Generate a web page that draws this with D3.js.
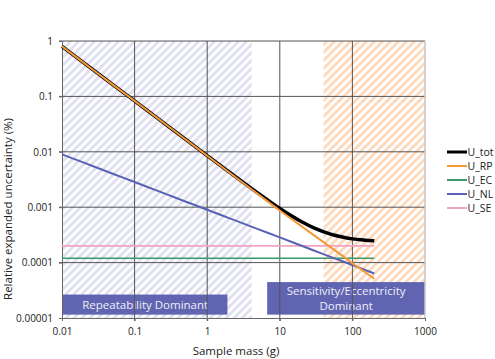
<!DOCTYPE html>
<html><head><meta charset="utf-8">
<script src="https://cdn.jsdelivr.net/npm/d3@7"></script>
<style>body{margin:0;background:#fff}svg{display:block;font-family:'Open Sans',sans-serif}</style>
</head><body><svg id="c" width="495" height="359"></svg>
<script>
const xTickValues = [0.01, 0.1, 1, 10, 100, 1000];
const xTickLabels = ["0.01", "0.1", "1", "10", "100", "1000"];
const yTickValues = [0.00001, 0.0001, 0.001, 0.01, 0.1, 1];
const yTickLabels = ["0.00001", "0.0001", "0.001", "0.01", "0.1", "1"];

const mass = [0.01, 0.02, 0.05, 0.1, 0.2, 0.5, 1, 2, 5, 10, 20, 30, 50, 70, 100, 150, 200];
const U_tot = [0.8, 0.403, 0.163, 0.083, 0.0418, 0.01695, 0.00855, 0.00435, 0.0018, 0.000945, 0.000546, 0.000419, 0.000327, 0.000292, 0.000268, 0.000254, 0.000247];
const U_RP  = [0.8, 0.403, 0.163, 0.083, 0.0418, 0.0169, 0.0085, 0.00428, 0.00173, 0.00087, 0.00045, 0.000307, 0.00019, 0.000138, 0.0000975, 0.0000668, 0.000051];
const U_EC  = [0.00012, 0.00012, 0.00012, 0.00012, 0.00012, 0.00012, 0.00012, 0.00012, 0.00012, 0.00012, 0.00012, 0.00012, 0.00012, 0.00012, 0.00012, 0.00012, 0.00012];
const U_NL  = [0.009, 0.00636, 0.00402, 0.00285, 0.00201, 0.00127, 0.0009, 0.000636, 0.000402, 0.000285, 0.000201, 0.000164, 0.000127, 0.000108, 0.00009, 0.0000735, 0.0000636];
const U_SE  = [0.0002, 0.0002, 0.0002, 0.0002, 0.0002, 0.0002, 0.0002, 0.0002, 0.0002, 0.0002, 0.0002, 0.0002, 0.0002, 0.0002, 0.0002, 0.0002, 0.0002];

const seriesNames = ["U_tot", "U_RP", "U_EC", "U_NL", "U_SE"];
const seriesValues = [U_tot, U_RP, U_EC, U_NL, U_SE];

// shaded regions (sample mass ranges)
const regionRanges = [[0.01, 4.1], [40, 1000]];
// label boxes: [x0, x1] in mass, [y0, y1] in uncertainty
const boxXRanges = [[0.0103, 1.9], [6.7, 1000]];
const boxYRanges = [[0.0000115, 0.0000265], [0.0000115, 0.0000445]];
const boxLabels = [["Repeatability Dominant"], ["Sensitivity/Eccentricity", "Dominant"]];

const colors = {U_tot: "#000000", U_RP: "#f59a3a", U_EC: "#3f9a6b", U_NL: "#5a62b6", U_SE: "#f2a3c6"};
const widths = {U_tot: 3.5, U_RP: 2, U_EC: 1.6, U_NL: 2, U_SE: 1.6};

const svg = d3.select("#c");
const x = d3.scaleLog().domain([0.01, 1000]).range([62, 425]);
const y = d3.scaleLog().domain([0.00001, 1]).range([318, 41]);

const defs = svg.append("defs");
function hatch(id, color) {
  const p = defs.append("pattern").attr("id", id).attr("patternUnits", "userSpaceOnUse")
    .attr("width", 8).attr("height", 8);
  p.append("path").attr("d", "M-2,2 L2,-2 M0,8 L8,0 M6,10 L10,6")
    .attr("stroke", color).attr("stroke-width", 3);
}
hatch("hb", "#dfe1ef");
hatch("ho", "#fdd9bd");
const fills = ["url(#hb)", "url(#ho)"];

svg.append("g").selectAll("rect").data(regionRanges).join("rect")
  .attr("x", d => x(d[0])).attr("width", d => x(d[1]) - x(d[0]))
  .attr("y", y(1)).attr("height", y(0.00001) - y(1))
  .attr("fill", (d, i) => fills[i]);

// boxes
const bg = svg.append("g");
boxXRanges.forEach((r, i) => {
  const x0 = x(r[0]), x1 = x(r[1]);
  const y0 = y(boxYRanges[i][1]), y1 = y(boxYRanges[i][0]);
  bg.append("rect").attr("x", x0).attr("y", y0).attr("width", x1 - x0).attr("height", y1 - y0)
    .attr("fill", "#6165b1");
  const lines = boxLabels[i];
  const cx = (x0 + x1) / 2, cy = (y0 + y1) / 2;
  lines.forEach((t, j) => {
    bg.append("text").attr("x", cx).attr("y", cy + (j - (lines.length - 1) / 2) * 15 + 4)
      .attr("text-anchor", "middle").attr("fill", "#eeeefa").attr("font-size", 11.5).text(t);
  });
});

// grid
const grid = svg.append("g");
grid.selectAll("line.v").data(xTickValues.slice(1, -1)).join("line")
  .attr("x1", d => x(d)).attr("x2", d => x(d)).attr("y1", y(1)).attr("y2", y(0.00001) + 3)
  .attr("stroke", "#555").attr("stroke-width", 1);
grid.selectAll("line.h").data(yTickValues.slice(1)).join("line")
  .attr("x1", x(0.01) - 3).attr("x2", x(1000)).attr("y1", d => y(d)).attr("y2", d => y(d))
  .attr("stroke", "#555").attr("stroke-width", 1);
// frame
svg.append("line").attr("x1", x(1000)).attr("x2", x(1000)).attr("y1", y(1)).attr("y2", y(0.00001))
  .attr("stroke", "#c4c4c4").attr("stroke-width", 1.5);

// axes
const xAxis = svg.append("g").attr("transform", `translate(0,${y(0.00001)})`)
  .call(d3.axisBottom(x).tickValues(xTickValues).tickFormat((d, i) => xTickLabels[i]).tickSize(3).tickSizeOuter(0));
const yAxis = svg.append("g").attr("transform", `translate(${x(0.01)},0)`)
  .call(d3.axisLeft(y).tickValues(yTickValues).tickFormat((d, i) => yTickLabels[i]).tickSize(3).tickSizeOuter(0));
[xAxis, yAxis].forEach(a => {
  a.select(".domain").attr("stroke", "#666");
  a.selectAll(".tick line").attr("stroke", "#666");
  a.selectAll("text").attr("font-size", 10).attr("fill", "#222").attr("font-family", "'Open Sans',sans-serif");
});
xAxis.selectAll("text").attr("dy", "1.1em");
yAxis.selectAll("text").attr("x", -9);

// lines
const line = d3.line().x((d, i) => x(mass[i])).y(d => y(d)).curve(d3.curveMonotoneX);
const order = [0, 2, 4, 3, 1];
svg.append("g").selectAll("path").data(order).join("path")
  .attr("d", i => line(seriesValues[i]))
  .attr("fill", "none")
  .attr("stroke", i => colors[seriesNames[i]])
  .attr("stroke-width", i => widths[seriesNames[i]]);

// legend
const lg = svg.append("g");
seriesNames.forEach((n, i) => {
  const ly = 152 + i * 14;
  lg.append("line").attr("x1", 447).attr("x2", 467).attr("y1", ly).attr("y2", ly)
    .attr("stroke", colors[n]).attr("stroke-width", n === "U_tot" ? 3 : 2);
  lg.append("text").attr("x", 467.5).attr("y", ly + 3.5).attr("font-size", 10.5).attr("fill", "#222").text(n);
});

// axis titles
svg.append("text").attr("x", 236).attr("y", 355).attr("text-anchor", "middle")
  .attr("font-size", 11.5).attr("fill", "#222").text("Sample mass (g)");
svg.append("text").attr("transform", "translate(12,209) rotate(-90)").attr("text-anchor", "middle")
  .attr("font-size", 11.5).attr("fill", "#222").text("Relative expanded uncertainty (%)");
</script></body></html>
